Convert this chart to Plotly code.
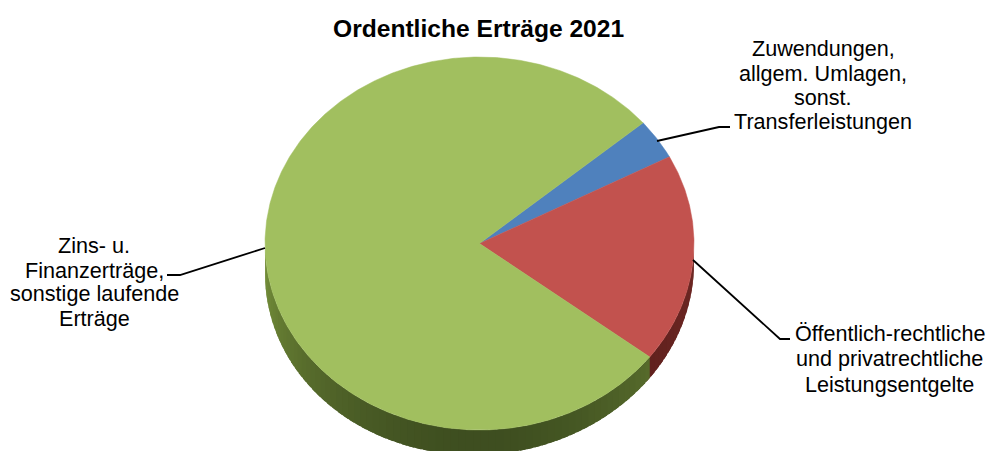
import numpy as np
import plotly.graph_objects as go

title = "Ordentliche Erträge 2021"
categories = [["Zuwendungen,", "allgem. Umlagen,", "sonst.", "Transferleistungen"],
              ["Öffentlich-rechtliche", "und privatrechtliche", "Leistungsentgelte"],
              ["Zins- u.", "Finanzerträge,", "sonstige laufende", "Erträge"]]
values = [3.5, 18.1, 78.4]
colors = ["#4f81bd", "#c2524e", "#a1bf5f"]
side_dark = [(40, 60, 90), (88, 28, 26), (62, 78, 32)]
side_light = [(40, 60, 90), (110, 40, 36), (116, 142, 58)]
first_angle = 49.7

W, H = 986, 451
cx, cy, rx, ry = 479.5, 243.5, 214.5, 186.5

label_x = [823, 889.5, 94]
label_y = [[48, 73, 97, 121], [333, 358, 384], [245, 270, 293, 318]]
leaders = [([657, 719, 730], [141, 127, 127]),
           ([693, 780, 790], [260, 339, 339]),
           ([265, 180, 167], [248, 275, 275])]


def ell(deg, dy=0.0):
    a = np.radians(deg)
    return cx + rx * np.sin(a), cy - ry * np.cos(a) + dy


def side_depth(deg):
    return 25 - 5 * np.sin(np.radians(deg))


shares = np.array(values) / sum(values) * 360
starts = first_angle + np.concatenate([[0], np.cumsum(shares)[:-1]])
ends = starts + shares

fig = go.Figure()

# extruded side, front half only, shaded in overlapping strips
for s, e, dark, light in zip(starts, ends, side_dark, side_light):
    lo, hi = max(s, 90), min(e, 270)
    if hi <= lo:
        continue
    n = max(2, int((hi - lo) / 2))
    edges = np.linspace(lo, hi, n + 1)
    for a0, a1 in zip(edges[:-1], edges[1:]):
        mid = (a0 + a1) / 2
        t = min(abs(mid - 180) / 85, 1) ** 1.6
        col = "rgb(%d,%d,%d)" % tuple(int(d + (l - d) * t) for d, l in zip(dark, light))
        arc = np.linspace(a0, min(a1 + 1.5, 270), 5)
        xt, yt = ell(arc)
        xb, yb = ell(arc[::-1], side_depth(arc[::-1]))
        fig.add_trace(go.Scatter(x=np.r_[xt, xb], y=np.r_[yt, yb], mode="lines", fill="toself",
                                 fillcolor=col, line=dict(width=0), hoverinfo="skip"))

# top face
for s, e, col in zip(starts, ends, colors):
    arc = np.linspace(s, e, max(3, int(e - s) * 2))
    xt, yt = ell(arc)
    fig.add_trace(go.Scatter(x=np.r_[cx, xt, cx], y=np.r_[cy, yt, cy], mode="lines", fill="toself",
                             fillcolor=col, line=dict(color=col, width=0.5), hoverinfo="skip"))

# leader lines
for lx, ly in leaders:
    fig.add_trace(go.Scatter(x=lx, y=ly, mode="lines", line=dict(color="black", width=1.8), hoverinfo="skip"))

annotations = [dict(x=478, y=28, text="<b>%s</b>" % title, showarrow=False, xanchor="center", yanchor="middle",
                    font=dict(size=24.6, color="black", family="Liberation Sans"))]
for lines, lx, rows in zip(categories, label_x, label_y):
    for line, ly in zip(lines, rows):
        annotations.append(dict(x=lx, y=ly, text=line, showarrow=False, xanchor="center", yanchor="middle",
                                font=dict(size=21.6, color="black", family="Liberation Sans")))

fig.update_layout(
    width=W, height=H, margin=dict(l=0, r=0, t=0, b=0), showlegend=False,
    paper_bgcolor="white", plot_bgcolor="white", annotations=annotations,
    xaxis=dict(range=[0, W], visible=False, fixedrange=True),
    yaxis=dict(range=[H, 0], visible=False, fixedrange=True),
)
fig.write_html("out.html", config=dict(displayModeBar=False),
               post_script="document.body.style.margin='0';document.body.style.overflow='hidden';")
